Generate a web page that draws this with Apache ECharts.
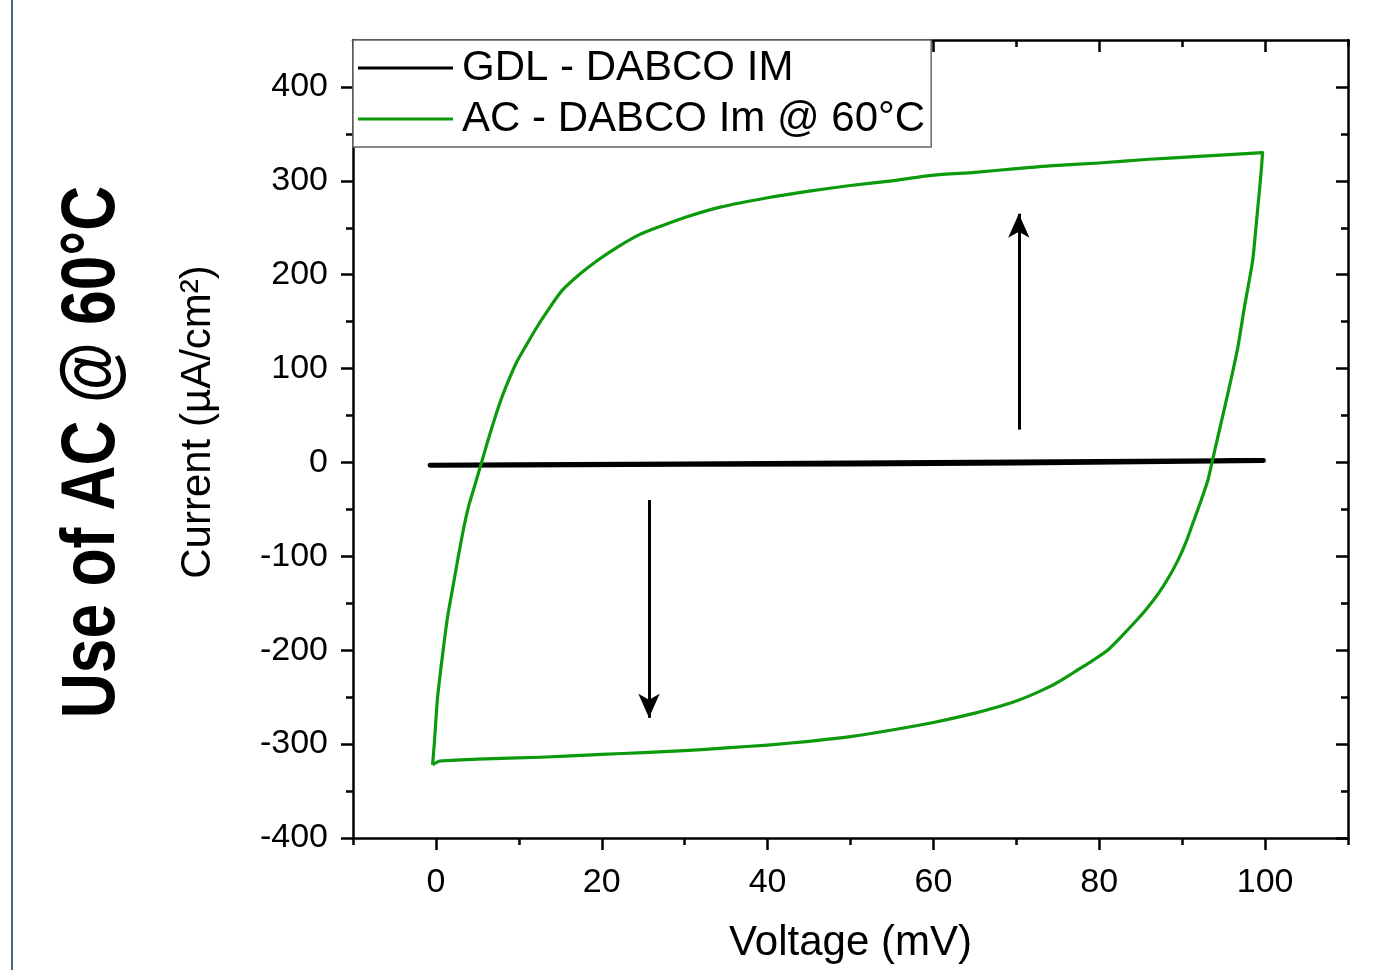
<!DOCTYPE html>
<html>
<head>
<meta charset="utf-8">
<script src="https://cdn.jsdelivr.net/npm/echarts@6/dist/echarts.min.js"></script>
<style>
  html, body { margin: 0; padding: 0; background: #fff; }
  #chart { width: 1394px; height: 970px; }
</style>
</head>
<body>
<div id="chart"></div>
<script>
// tick positions
const xMajorTicks = [0, 20, 40, 60, 80, 100]
const xMinorTicks = [-10, 10, 30, 50, 70, 90, 110]
const yMajorTicks = [-400, -300, -200, -100, 0, 100, 200, 300, 400]
const yMinorTicks = [-350, -250, -150, -50, 50, 150, 250, 350]

// GDL - DABCO IM (flat trace around zero)
const gdlCurve = [
  [-0.7, -3], [10, -2.5], [30, -1.5], [50, -0.5], [70, 0.5], [90, 1.5], [99.8, 2],
  [99.8, 0.5], [70, -0.5], [50, -1.5], [30, -2], [10, -2.8], [-0.7, -3]
]

// AC - DABCO Im @ 60°C, forward sweep (0 -> 100 mV)
const acForward = [
  [-0.4, -322], [-0.2, -300], [0.2, -250], [0.8, -205], [1.4, -165], [2.1, -130],
  [2.7, -100], [3.3, -72], [3.9, -48], [4.5, -30], [5.1, -12], [5.5, 0], [6.5, 30],
  [7.7, 63], [8.7, 86], [9.8, 108], [10.9, 125], [12.1, 143], [13.5, 162],
  [15.2, 183], [17.4, 201], [19.6, 216], [22, 230], [24.6, 243], [27.2, 252],
  [30, 261], [34.3, 272], [40, 282], [45, 289], [50, 295], [55, 300],
  [60, 306], [65, 309], [70, 313], [74, 316], [80, 319], [86, 323], [92, 326], [99.7, 330]
]
// reverse sweep (100 -> 0 mV)
const acReverse = [
  [99.5, 307], [99.0, 260], [98.5, 215], [97.5, 165], [96.7, 122], [95.5, 73],
  [94.4, 31], [93.6, 0], [93.1, -19], [92.3, -40], [91.4, -62], [90.5, -84],
  [89.5, -104], [88.4, -122], [87.1, -140], [85.7, -156], [84.2, -171],
  [82.6, -186], [81, -200], [79.2, -211], [77.4, -221], [75.8, -230], [74.2, -238],
  [72, -247], [70, -254], [67.5, -261], [65, -267], [60, -277], [55, -285], [50, -292],
  [45, -297], [40, -301], [35, -304], [30, -307], [25, -309], [20, -311],
  [12.6, -314], [5, -316], [0.5, -318], [-0.4, -322]
]

// sweep direction arrows [start, end]
const arrowUp = [[70.3, 35], [70.3, 265]]
const arrowDown = [[25.7, -40], [25.7, -272]]

const FONT = 'Liberation Sans'
const X_MIN = -10, X_MAX = 110, Y_MIN = -400, Y_MAX = 450

const black = '#000'
const green = '#0c990c'

// helper for the boxed axes
const boxAxis = (position, ticks, len, inside, showLine) => ({
  type: 'value',
  position,
  min: position === 'top' || position === 'bottom' ? X_MIN : Y_MIN,
  max: position === 'top' || position === 'bottom' ? X_MAX : Y_MAX,
  axisLine: { show: showLine, onZero: false, lineStyle: { color: black, width: 2.5 } },
  axisTick: { show: true, inside, length: len, customValues: ticks, lineStyle: { color: black, width: 2.5 } },
  axisLabel: { show: false },
  splitLine: { show: false }
})

const chart = echarts.init(document.getElementById('chart'), null, { renderer: 'canvas' })

const xMain = boxAxis('bottom', xMajorTicks, 12, false, true)
xMain.axisLabel = {
  show: true, customValues: xMajorTicks, margin: 28,
  fontFamily: FONT, fontSize: 34, color: black
}
xMain.name = 'Voltage (mV)'
xMain.nameLocation = 'middle'
xMain.nameGap = 84
xMain.nameTextStyle = { fontFamily: FONT, fontSize: 42, color: black }

const yMain = boxAxis('left', yMajorTicks, 12, false, true)
yMain.axisLabel = {
  show: true, customValues: yMajorTicks, margin: 25,
  fontFamily: FONT, fontSize: 34, color: black
}
yMain.name = 'Current (µA/cm²)'
yMain.nameLocation = 'middle'
yMain.nameGap = 134
yMain.nameTextStyle = { fontFamily: FONT, fontSize: 42, color: black, padding: [0, 0, 0, 34] }

chart.setOption({
  animation: false,
  backgroundColor: '#fff',
  grid: { left: 353, right: 46, top: 40, bottom: 132, containLabel: false },
  legend: {
    orient: 'vertical',
    left: 353,
    top: 40,
    padding: [7, 6, 7, 5],
    itemGap: 9,
    itemWidth: 95,
    itemHeight: 3,
    icon: 'rect',
    backgroundColor: '#fff',
    borderColor: '#666',
    borderWidth: 1.5,
    textStyle: { fontFamily: FONT, fontSize: 42, color: black, padding: [0, 0, 0, 4] },
    data: ['GDL - DABCO IM', 'AC - DABCO Im @ 60°C'],
    z: 10
  },
  xAxis: [
    xMain,
    boxAxis('bottom', xMinorTicks, 7, false, false),
    boxAxis('top', xMajorTicks, 12, true, true),
    boxAxis('top', xMinorTicks, 7, true, false)
  ],
  yAxis: [
    yMain,
    boxAxis('left', yMinorTicks, 7, false, false),
    boxAxis('right', yMajorTicks, 12, true, true),
    boxAxis('right', yMinorTicks, 7, true, false)
  ],
  graphic: [
    {
      type: 'line',
      shape: { x1: 12, y1: 0, x2: 12, y2: 970 },
      style: { stroke: '#46698f', lineWidth: 2 }
    },
    {
      type: 'text',
      x: 93,
      y: 452,
      rotation: Math.PI / 2,
      scaleX: 0.82,
      style: {
        text: 'Use of AC @ 60°C',
        font: 'bold 76px "Liberation Sans"',
        fill: '#000',
        align: 'center',
        verticalAlign: 'middle',
        shadowColor: 'rgba(0,0,0,0.45)',
        shadowBlur: 6,
        shadowOffsetX: 4,
        shadowOffsetY: 3
      }
    }
  ],
  series: [
    {
      name: 'GDL - DABCO IM',
      type: 'line',
      xAxisIndex: 0,
      yAxisIndex: 0,
      data: gdlCurve,
      showSymbol: false,
      symbol: 'none',
      lineStyle: { color: black, width: 5, cap: 'round', join: 'round' },
      itemStyle: { color: black },
      z: 2,
      markLine: {
        silent: true,
        symbol: ['none', 'arrow'],
        symbolSize: [16, 24],
        label: { show: false },
        lineStyle: { color: black, width: 3, type: 'solid' },
        data: [
          [{ coord: arrowUp[0] }, { coord: arrowUp[1] }],
          [{ coord: arrowDown[0] }, { coord: arrowDown[1] }]
        ]
      }
    },
    {
      name: 'AC - DABCO Im @ 60°C',
      type: 'line',
      xAxisIndex: 0,
      yAxisIndex: 0,
      data: acForward.concat(acReverse),
      showSymbol: false,
      symbol: 'none',
      smooth: 0.2,
      lineStyle: { color: green, width: 3.2, join: 'round' },
      itemStyle: { color: green },
      z: 3
    }
  ]
})
</script>
</body>
</html>
